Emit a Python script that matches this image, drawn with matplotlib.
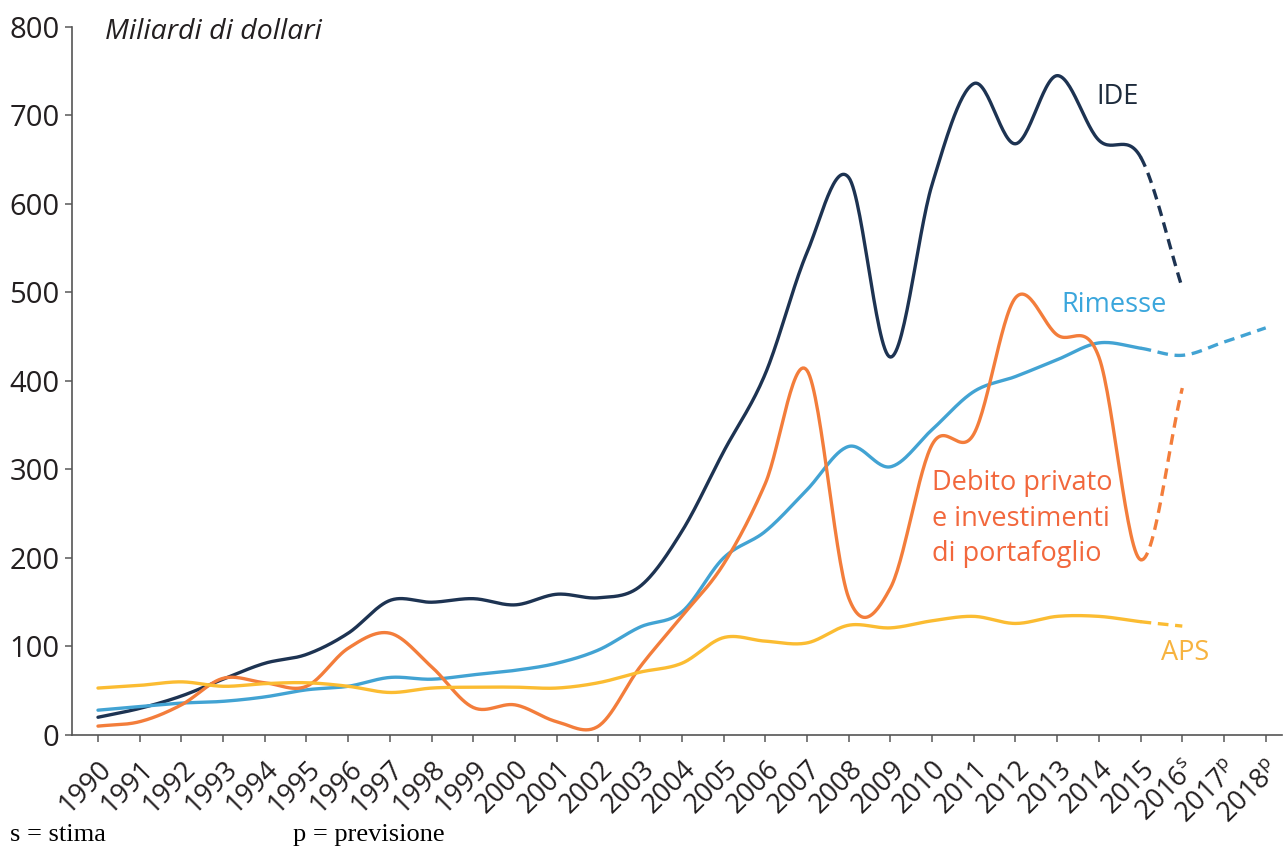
import numpy as np
import matplotlib
matplotlib.use("Agg")
import matplotlib.pyplot as plt
from matplotlib.transforms import ScaledTranslation

plt.rcParams['font.family'] = ['Open Sans', 'DejaVu Sans']
plt.rcParams['mathtext.fontset'] = 'custom'
plt.rcParams['mathtext.it'] = 'Open Sans:italic'
plt.rcParams['mathtext.rm'] = 'Open Sans'

years = list(range(1990, 2019))
year_labels = [str(y) for y in range(1990, 2016)] + [r"2016$^{\mathrm{s}}$", r"2017$^{\mathrm{p}}$", r"2018$^{\mathrm{p}}$"]

# Values (billions of dollars), 1990..2016 (Rimesse to 2018)
ide = [20, 30, 44, 63, 81, 91, 115, 152, 150, 154, 147, 159, 155, 168, 230,
       320, 408, 545, 630, 427, 622, 736, 668, 745, 672, 653, 505]
rimesse = [28, 32, 36, 38, 43, 51, 55, 65, 63, 68, 73, 81, 96, 122, 139,
           200, 230, 277, 326, 303, 345, 388, 405, 424, 443, 437, 429, 444, 460]
debito = [10, 15, 34, 64, 59, 55, 98, 115, 77, 31, 34, 15, 10, 77, 134,
          193, 284, 412, 155, 166, 328, 340, 494, 452, 427, 198, 392]
aps = [53, 56, 60, 55, 58, 59, 55, 48, 53, 54, 54, 53, 59, 71, 81,
       110, 106, 104, 124, 121, 129, 134, 126, 134, 134, 128, 123]

last_actual = 2015


def smooth(xs, ys, n=30):
    xs = np.asarray(xs, float)
    ys = np.asarray(ys, float)
    m = np.zeros_like(ys)
    m[1:-1] = (ys[2:] - ys[:-2]) / (xs[2:] - xs[:-2])
    m[0] = (ys[1] - ys[0]) / (xs[1] - xs[0])
    m[-1] = (ys[-1] - ys[-2]) / (xs[-1] - xs[-2])
    X, Y = [], []
    for i in range(len(xs) - 1):
        h = xs[i + 1] - xs[i]
        t = np.linspace(0, 1, n, endpoint=(i == len(xs) - 2))
        h00 = 2 * t**3 - 3 * t**2 + 1
        h10 = t**3 - 2 * t**2 + t
        h01 = -2 * t**3 + 3 * t**2
        h11 = t**3 - t**2
        X.append(xs[i] + t * h)
        Y.append(h00 * ys[i] + h10 * h * m[i] + h01 * ys[i + 1] + h11 * h * m[i + 1])
    return np.concatenate(X), np.concatenate(Y)


fig = plt.figure(figsize=(12.87, 8.48), dpi=100)
ax = fig.add_axes([0.0559, 0.1333, 0.9402, 0.8349])

series = [
    (ide, '#1d3352'),
    (rimesse, '#42a3d3'),
    (debito, '#f37d3b'),
    (aps, '#fbbc32'),
]
for vals, col in series:
    xs = years[:len(vals)]
    X, Y = smooth(xs, vals)
    solid = X <= last_actual
    dashed = X >= last_actual
    ax.plot(X[solid], Y[solid], color=col, lw=2.4, solid_capstyle='round')
    ax.plot(X[dashed], Y[dashed], color=col, lw=2.4, dashes=(3.2, 2.0))

ax.set_xlim(1989.376, 2018.39)
ax.set_ylim(0, 800)
ax.set_yticks(range(0, 801, 100))
ax.set_xticks(years)
ax.set_xticklabels(year_labels, rotation=45, ha='right', va='center',
                   rotation_mode='anchor')
for spine in ['top', 'right']:
    ax.spines[spine].set_visible(False)
for spine in ['left', 'bottom']:
    ax.spines[spine].set_color('#555555')
    ax.spines[spine].set_linewidth(1.2)
ax.tick_params(axis='both', colors='#666666', labelcolor='#231f20',
               length=5, width=1.2)
ax.tick_params(axis='y', labelsize=21, pad=4)
ax.tick_params(axis='x', labelsize=19.5, pad=6)
offset = ScaledTranslation(0.10, -0.15, fig.dpi_scale_trans)
for lab in ax.get_xticklabels():
    lab.set_transform(lab.get_transform() + offset)

ax.text(1990.17, 794, 'Miliardi di dollari', style='italic', fontsize=20.5,
        color='#231f20', va='center', ha='left')
ax.text(2013.94, 721, 'IDE', fontsize=19.5, color='#1d2b3c', va='center', ha='left')
ax.text(2013.1, 486, 'Rimesse', fontsize=19.5, color='#3aa6dc', va='center', ha='left')
ax.text(2010.0, 300, 'Debito privato\ne investimenti\ndi portafoglio', fontsize=19.5,
        color='#f2673c', va='top', ha='left', linespacing=1.35)
ax.text(2015.5, 93, 'APS', fontsize=19.5, color='#f7b33f', va='center', ha='left')

fig.text(10 / 1287, 1 - 835 / 848, 's = stima', family='Liberation Serif',
         fontsize=19, va='center', ha='left', color='black')
fig.text(293 / 1287, 1 - 835 / 848, 'p = previsione', family='Liberation Serif',
         fontsize=19, va='center', ha='left', color='black')

fig.savefig('out.png', dpi=100)
